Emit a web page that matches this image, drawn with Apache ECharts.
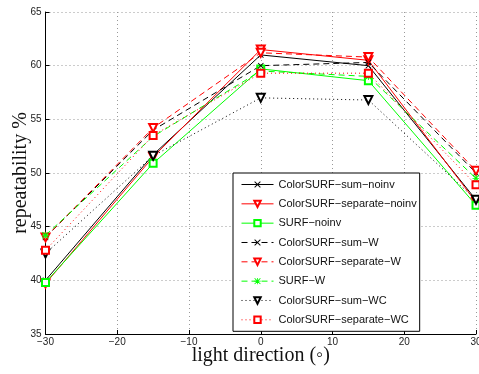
<!DOCTYPE html>
<html>
<head>
<meta charset="utf-8">
<script src="https://cdn.jsdelivr.net/npm/echarts@6/dist/echarts.min.js"></script>
<style>
  html, body { margin: 0; padding: 0; background: #fff; overflow: hidden; }
  #chart { width: 479px; height: 374px; }
</style>
</head>
<body>
<div id="chart"></div>
<script>
// Light direction (degrees) at which repeatability was measured
const lightDirection = [-30, -15, 0, 15, 30];

// Repeatability (%) per descriptor variant
const sumNoinv      = [40.0, 51.7, 61.0, 60.0, 47.5];
const separateNoinv = [39.7, 51.5, 61.5, 60.5, 47.3];
const surfNoinv     = [39.8, 50.9, 59.7, 58.6, 47.0];
const sumW          = [44.0, 54.0, 60.0, 60.3, 50.0];
const separateW     = [44.0, 54.2, 61.2, 60.8, 50.2];
const surfW         = [44.2, 53.4, 59.5, 59.0, 49.5];
const sumWC         = [42.5, 51.6, 57.0, 56.8, 47.5];
const separateWC    = [42.8, 53.5, 59.3, 59.3, 48.9];

// Marker shapes
const CROSS = 'path://M0,1L1,0L5,4L9,0L10,1L6,5L10,9L9,10L5,6L1,10L0,9L4,5Z';
const STAR = 'path://M4.4,0h1.2v10h-1.2Z M0,4.4h10v1.2h-10Z M0,1L1,0L5,4L9,0L10,1L6,5L10,9L9,10L5,6L1,10L0,9L4,5Z';

const BLACK = '#000000', RED = '#ff0000', GREEN = '#00ff00';
const DASH = [6, 4], DOT = [1, 3];

function pairs(vals) {
  return lightDirection.map((x, i) => [x, vals[i]]);
}

function mk(name, vals, color, dash, symbol, size, rotate) {
  const filledPath = symbol.indexOf('path://') === 0;
  return {
    name: name,
    type: 'line',
    data: pairs(vals),
    symbol: symbol,
    symbolSize: size,
    symbolRotate: rotate || 0,
    showAllSymbol: true,
    animation: false,
    lineStyle: { color: color, width: 1, type: dash },
    itemStyle: filledPath
      ? { color: color, borderWidth: 0 }
      : { color: color, borderColor: color, borderWidth: 1.2 },
    emphasis: { disabled: true }
  };
}

const series = [
  mk('ColorSURF\u2212sum\u2212noinv',       sumNoinv,      BLACK, 'solid', CROSS, 6),
  mk('ColorSURF\u2212separate\u2212noinv',  separateNoinv, RED,   'solid', 'emptyTriangle', 8, 180),
  mk('SURF\u2212noinv',                     surfNoinv,     GREEN, 'solid', 'emptyRect', 7),
  mk('ColorSURF\u2212sum\u2212W',           sumW,          BLACK, DASH,    CROSS, 6),
  mk('ColorSURF\u2212separate\u2212W',      separateW,     RED,   DASH,    'emptyTriangle', 8, 180),
  mk('SURF\u2212W',                         surfW,         GREEN, DASH,    STAR, 7),
  mk('ColorSURF\u2212sum\u2212WC',          sumWC,         BLACK, DOT,     'emptyTriangle', 8, 180),
  mk('ColorSURF\u2212separate\u2212WC',     separateWC,    RED,   DOT,     'emptyRect', 7)
];

const chart = echarts.init(document.getElementById('chart'), null, { renderer: 'canvas' });

const axisText = { fontFamily: 'Liberation Sans, Arial, sans-serif', fontSize: 10, color: '#222' };
const gridLine = { show: true, lineStyle: { color: '#999', width: 1, type: [1, 3] } };
const titleFont = { fontFamily: 'Liberation Serif, Times New Roman, serif', fontSize: 20, color: '#111' };

chart.setOption({
  backgroundColor: '#ffffff',
  animation: false,
  grid: { left: 45.5, right: 3, top: 12, bottom: 40, containLabel: false, outerBoundsMode: 'none' },
  xAxis: {
    type: 'value',
    min: -30, max: 30, interval: 10,
    name: 'light direction (\u25e6)',
    nameLocation: 'middle',
    nameGap: 12,
    nameMoveOverlap: false,
    nameTextStyle: titleFont,
    axisLine: { show: true, onZero: false, lineStyle: { color: '#000', width: 1 } },
    axisTick: { show: true, inside: true, length: 4, lineStyle: { color: '#000' } },
    axisLabel: Object.assign({
      margin: 3, hideOverlap: false, showMinLabel: true, showMaxLabel: true,
      formatter: v => String(v).replace('-', '\u2212')
    }, axisText),
    splitLine: gridLine
  },
  yAxis: {
    type: 'value',
    min: 35, max: 65, interval: 5,
    name: 'repeatability %',
    nameLocation: 'middle',
    nameGap: 15,
    nameMoveOverlap: false,
    nameTextStyle: titleFont,
    axisLine: { show: true, onZero: false, lineStyle: { color: '#000', width: 1 } },
    axisTick: { show: true, inside: true, length: 4, lineStyle: { color: '#000' } },
    axisLabel: Object.assign({ margin: 4, hideOverlap: false }, axisText),
    splitLine: gridLine
  },
  legend: {
    orient: 'vertical',
    left: 233, top: 173,
    padding: [6, 3, 6, 8],
    itemWidth: 32, itemHeight: 8, itemGap: 8.33,
    backgroundColor: '#ffffff',
    borderColor: '#000000', borderWidth: 1, borderRadius: 0,
    selectedMode: false,
    lineStyle: { width: 1 },
    textStyle: { fontFamily: 'Liberation Sans, Arial, sans-serif', fontSize: 11, lineHeight: 10, color: '#111' },
    data: series.map(s => s.name)
  },
  series: series
});
</script>
</body>
</html>
